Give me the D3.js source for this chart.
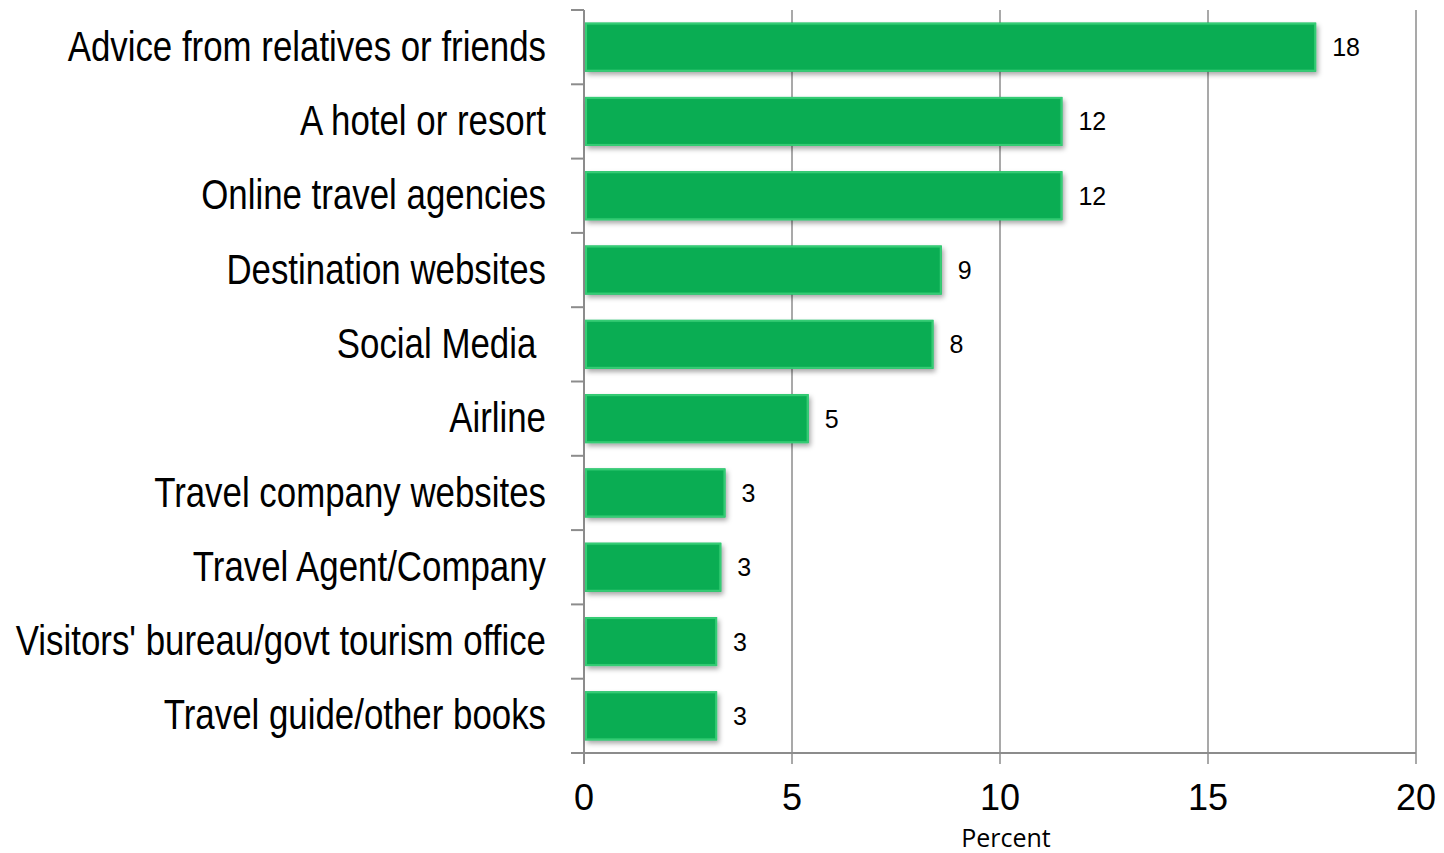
<!DOCTYPE html>
<html><head><meta charset="utf-8">
<script src="https://cdn.jsdelivr.net/npm/d3@7"></script>
<style>
html,body{margin:0;padding:0;background:#fff;}
svg{display:block;}
</style></head>
<body>
<svg id="chart" width="1444" height="853"></svg>
<script>
const categories = ["Advice from relatives or friends","A hotel or resort","Online travel agencies","Destination websites","Social Media ","Airline","Travel company websites","Travel Agent/Company","Visitors' bureau/govt tourism office","Travel guide/other books"];
const values = [17.6, 11.5, 11.5, 8.6, 8.4, 5.4, 3.4, 3.3, 3.2, 3.2];
const valueLabels = ["18","12","12","9","8","5","3","3","3","3"];
const xTicks = [0,5,10,15,20];
const xTitle = "Percent";

const svg = d3.select("#chart");
const x = d3.scaleLinear().domain([0,20]).range([584,1416]);
const y = d3.scaleBand().domain(categories).range([10,753]).paddingInner(0.34).paddingOuter(0.17);
const bandEdges = d3.range(categories.length+1).map(i => 10 + i*(743/categories.length));

const defs = svg.append("defs");
const f = defs.append("filter").attr("id","sh").attr("x","-5%").attr("y","-20%").attr("width","115%").attr("height","160%");
f.append("feDropShadow").attr("dx",2).attr("dy",3).attr("stdDeviation",2.5).attr("flood-color","#000").attr("flood-opacity",0.35);

// gridlines
svg.append("g").selectAll("line").data(xTicks.filter(d=>d>0)).join("line")
  .attr("x1",d=>x(d)).attr("x2",d=>x(d)).attr("y1",10).attr("y2",764)
  .attr("stroke","#8c8c8c").attr("stroke-width",1.5);

// y axis
svg.append("line").attr("x1",584).attr("x2",584).attr("y1",10).attr("y2",764).attr("stroke","#8c8c8c").attr("stroke-width",2);
svg.append("g").selectAll("line").data(bandEdges).join("line")
  .attr("x1",571).attr("x2",584).attr("y1",d=>d).attr("y2",d=>d)
  .attr("stroke","#8c8c8c").attr("stroke-width",2);
// x axis
svg.append("line").attr("x1",571).attr("x2",1416).attr("y1",753).attr("y2",753).attr("stroke","#8c8c8c").attr("stroke-width",2);

// bars
const bars = svg.append("g").selectAll("g").data(categories).join("g");
bars.append("rect")
  .attr("x",x(0)+1).attr("y",d=>y(d))
  .attr("width",(d,i)=>x(values[i])-x(0)-1).attr("height",y.bandwidth())
  .attr("fill","#0aae54").attr("filter","url(#sh)");
bars.append("rect")
  .attr("x",x(0)+2).attr("y",d=>y(d)+1)
  .attr("width",(d,i)=>x(values[i])-x(0)-3).attr("height",y.bandwidth()-2)
  .attr("fill","none").attr("stroke","#35cc74").attr("stroke-width",2);
bars.append("rect")
  .attr("x",x(0)+4).attr("y",d=>y(d)+3)
  .attr("width",(d,i)=>x(values[i])-x(0)-7).attr("height",y.bandwidth()-6)
  .attr("fill","#0aad53");

// value labels
svg.append("g").selectAll("text").data(categories).join("text")
  .attr("x",(d,i)=>x(values[i])+16).attr("y",d=>y(d)+y.bandwidth()/2)
  .attr("dy","0.36em")
  .attr("font-family","Liberation Sans, Arial, sans-serif").attr("font-size",25).attr("fill","#000")
  .text((d,i)=>valueLabels[i]);

// category labels (narrow look via horizontal compression)
svg.append("g").selectAll("text").data(categories).join("text")
  .attr("transform",d=>`translate(546,${y(d)+y.bandwidth()/2}) scale(0.82,1)`)
  .attr("dy","0.32em").attr("text-anchor","end")
  .style("white-space","pre").attr("xml:space","preserve")
  .attr("font-family","'Liberation Sans Narrow', 'Liberation Sans', Arial, sans-serif").attr("font-size",42.5).attr("fill","#000")
  .text(d=>d);

// x tick labels
svg.append("g").selectAll("text").data(xTicks).join("text")
  .attr("x",d=>x(d)).attr("y",810).attr("text-anchor","middle")
  .attr("font-family","Liberation Sans, Arial, sans-serif").attr("font-size",36).attr("fill","#000")
  .text(d=>d);

svg.append("text").attr("x",1006).attr("y",847).attr("text-anchor","middle")
  .attr("font-family","'Open Sans', Lato, sans-serif").attr("font-size",25).attr("fill","#000").text(xTitle);
</script>
</body></html>
